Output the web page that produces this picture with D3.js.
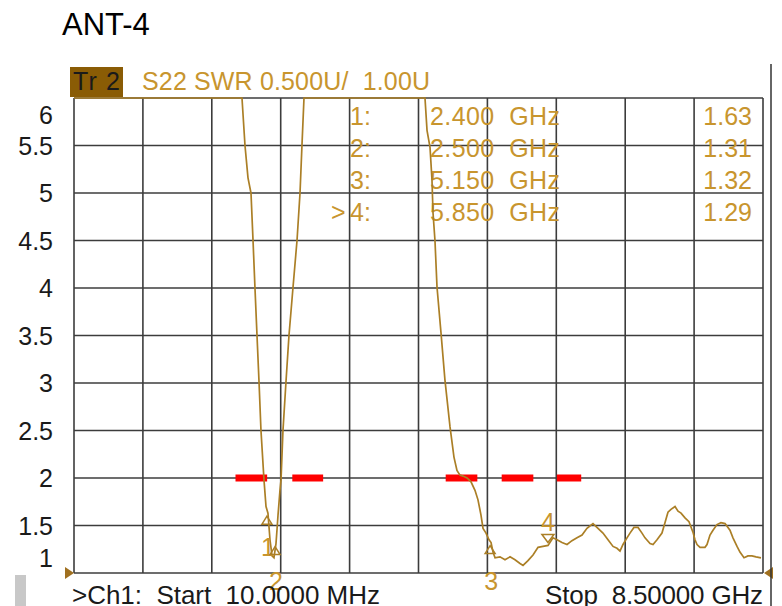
<!DOCTYPE html>
<html>
<head>
<meta charset="utf-8">
<script src="https://cdn.jsdelivr.net/npm/d3@7"></script>
<style>
  body { margin: 0; background: #fff; }
  text { font-family: Arial, "Liberation Sans", sans-serif; white-space: pre; }
</style>
</head>
<body>
<svg id="chart" width="782" height="606"></svg>
<script>
// S22 SWR trace (values above 6 are shown clamped at the top)
const freqGHz = [0.01, 2.080, 2.117, 2.154, 2.191, 2.216, 2.240, 2.265, 2.290, 2.314, 2.351, 2.376, 2.400,
  2.425, 2.450, 2.474, 2.499, 2.511, 2.524, 2.548, 2.561, 2.585, 2.622, 2.659, 2.708, 2.758, 2.795, 2.819,
  2.844, 4.335, 4.360, 4.397, 4.421, 4.434, 4.458, 4.483, 4.532, 4.581, 4.643, 4.692, 4.729, 4.766, 4.803,
  4.853, 4.902, 4.951, 4.988, 5.025, 5.050, 5.087, 5.124, 5.149, 5.173, 5.198, 5.259, 5.321, 5.383, 5.444,
  5.506, 5.543, 5.604, 5.666, 5.728, 5.789, 5.851, 5.912, 5.962, 6.023, 6.085, 6.146, 6.208, 6.270, 6.331,
  6.405, 6.467, 6.528, 6.590, 6.652, 6.701, 6.738, 6.775, 6.824, 6.861, 6.910, 6.960, 7.009, 7.046, 7.108,
  7.145, 7.194, 7.255, 7.292, 7.329, 7.366, 7.416, 7.453, 7.490, 7.539, 7.588, 7.637, 7.662, 7.687, 7.724,
  7.785, 7.810, 7.847, 7.884, 7.933, 7.982, 8.032, 8.093, 8.130, 8.180, 8.216, 8.266, 8.315, 8.364, 8.414,
  8.475];
const swr = [6.0, 6.0, 5.50, 5.16, 5.00, 4.50, 4.00, 3.50, 3.01, 2.50, 1.98, 1.70, 1.63,
  1.35, 1.18, 1.16, 1.31, 1.45, 1.61, 1.87, 1.98, 2.50, 3.01, 3.50, 4.00, 4.50, 5.00, 5.50,
  6.0, 6.0, 5.66, 5.48, 5.14, 4.79, 4.50, 4.01, 3.53, 3.03, 2.54, 2.22, 2.08, 2.03, 2.02,
  2.00, 1.96, 1.87, 1.77, 1.61, 1.47, 1.42, 1.35, 1.32, 1.22, 1.16, 1.17, 1.14, 1.17, 1.14,
  1.10, 1.08, 1.13, 1.19, 1.27, 1.28, 1.29, 1.37, 1.35, 1.32, 1.30, 1.34, 1.37, 1.40, 1.47,
  1.52, 1.47, 1.42, 1.35, 1.28, 1.26, 1.23, 1.30, 1.37, 1.42, 1.48, 1.48, 1.42, 1.37, 1.31,
  1.30, 1.35, 1.42, 1.53, 1.64, 1.67, 1.70, 1.65, 1.63, 1.58, 1.54, 1.43, 1.35, 1.30, 1.27,
  1.27, 1.30, 1.40, 1.45, 1.51, 1.53, 1.52, 1.45, 1.37, 1.28, 1.22, 1.16, 1.18, 1.18, 1.17,
  1.16];

const yTicks = [1, 1.5, 2, 2.5, 3, 3.5, 4, 4.5, 5, 5.5, 6];
const yTickLabels = ['1', '1.5', '2', '2.5', '3', '3.5', '4', '4.5', '5', '5.5', '6'];

const markerIds = ['1', '2', '3', '4'];
const markerFreq = [2.400, 2.500, 5.150, 5.850];
const markerFreqText = ['2.400  GHz', '2.500  GHz', '5.150  GHz', '5.850  GHz'];
const markerValue = [1.63, 1.31, 1.32, 1.29];

// red limit dashes at SWR = 2
const limitSegments = [[2.00, 2.39], [2.70, 3.08], [4.59, 4.98], [5.28, 5.67], [5.96, 6.26]];

const svg = d3.select('#chart');
const gold = '#ab7f26';
const goldText = '#c8952e';
const gridColor = '#3c3c3c';

const x = d3.scaleLinear().domain([0.01, 8.5]).range([74, 763]);
const y = d3.scaleLinear().domain([1, 6]).range([573, 98]);

// title
svg.append('text').attr('x', 62).attr('y', 35)
  .attr('font-size', 31).attr('fill', '#000').text('ANT-4');

// trace header
svg.append('rect').attr('x', 70).attr('y', 67).attr('width', 53).attr('height', 30).attr('fill', '#8a5c05');
svg.append('text').attr('x', 73).attr('y', 90).attr('font-size', 25).attr('fill', '#1a1a1a')
  .attr('textLength', 47).text('Tr 2');
svg.append('text').attr('x', 142).attr('y', 90).attr('font-size', 25).attr('fill', goldText)
  .attr('textLength', 288).text('S22 SWR 0.500U/  1.00U');

// grid
const xGrid = d3.range(11).map(i => x.domain()[0] + i * (x.domain()[1] - x.domain()[0]) / 10);
const grid = svg.append('g').attr('stroke', gridColor).attr('stroke-width', 1.6);
grid.selectAll('line.v').data(xGrid).join('line').attr('class', 'v')
  .attr('x1', d => x(d)).attr('x2', d => x(d)).attr('y1', y(6)).attr('y2', y(1));
grid.selectAll('line.h').data(yTicks).join('line').attr('class', 'h')
  .attr('x1', x(0.01)).attr('x2', x(8.5)).attr('y1', d => y(d)).attr('y2', d => y(d));

// y labels (top and bottom ones nudged inside like on the instrument)
svg.append('g').selectAll('text').data(yTicks).join('text')
  .attr('x', 53)
  .attr('y', d => y(d) + 9 + (d === 6 ? 17 : d === 1 ? -15 : 0))
  .attr('text-anchor', 'end').attr('font-size', 25).attr('fill', '#1a1a1a')
  .text((d, i) => yTickLabels[i]);

// marker table
const table = svg.append('g').attr('font-size', 25).attr('fill', goldText);
markerIds.forEach((id, i) => {
  const by = 125 + i * 32;
  table.append('text').attr('x', 350).attr('y', by).text(id + ':');
  table.append('text').attr('x', 430).attr('y', by).attr('textLength', 130).text(markerFreqText[i]);
  table.append('text').attr('x', 752).attr('y', by).attr('text-anchor', 'end').text(markerValue[i].toFixed(2));
});
table.append('text').attr('x', 331).attr('y', 125 + 3 * 32).text('>');

// limit line
svg.append('g').selectAll('rect').data(limitSegments).join('rect')
  .attr('x', d => x(d[0])).attr('width', d => x(d[1]) - x(d[0]))
  .attr('y', y(2) - 3.5).attr('height', 7).attr('fill', '#ff0000');

// trace
const pts = freqGHz.map((f, i) => [f, Math.max(1, Math.min(6, swr[i]))]);
svg.append('path').datum(pts)
  .attr('fill', 'none').attr('stroke', gold).attr('stroke-width', 1.7)
  .attr('d', d3.line().x(d => x(d[0])).y(d => y(d[1])));

// markers
markerIds.forEach((id, i) => {
  const mx = x(markerFreq[i]);
  const my = y(markerValue[i]);
  let tri;
  if (i === 3) {
    tri = `M${mx},${my - 3} L${mx - 6},${my - 11} L${mx + 6},${my - 11} Z`;
  } else {
    tri = `M${mx - 1},${my + 3} L${mx - 6},${my + 11} L${mx + 4},${my + 11} Z`;
  }
  svg.append('path').attr('d', tri).attr('fill', 'none').attr('stroke', gold).attr('stroke-width', 1.5);
  let ly;
  if (i === 0) ly = my + 43;
  else if (i === 3) ly = my - 14;
  else ly = y(1) + 17;
  svg.append('text').attr('x', mx).attr('y', ly).attr('text-anchor', 'middle')
    .attr('font-size', 25).attr('fill', goldText).text(id);
});

// reference position arrows
svg.append('path').attr('d', `M${x(0.01) - 9},${y(1) - 6} L${x(0.01)},${y(1)} L${x(0.01) - 9},${y(1) + 6} Z`).attr('fill', '#a07020');
svg.append('path').attr('d', `M${x(8.5) + 10},${y(1) - 6} L${x(8.5) + 1},${y(1)} L${x(8.5) + 10},${y(1) + 6} Z`).attr('fill', '#a07020');

// right frame line and side bar
svg.append('line').attr('x1', 771).attr('x2', 771).attr('y1', 64).attr('y2', 606)
  .attr('stroke', '#333').attr('stroke-width', 1.5);
svg.append('rect').attr('x', 15).attr('y', 575).attr('width', 11).attr('height', 31).attr('fill', '#c8c8c8');

// stimulus line
svg.append('text').attr('x', 72).attr('y', 604).attr('font-size', 26).attr('fill', '#1a1a1a')
  .attr('textLength', 308).text('>Ch1:  Start  10.0000 MHz');
svg.append('text').attr('x', 545).attr('y', 604).attr('font-size', 26).attr('fill', '#1a1a1a')
  .attr('textLength', 218).text('Stop  8.50000 GHz');
</script>
</body>
</html>
